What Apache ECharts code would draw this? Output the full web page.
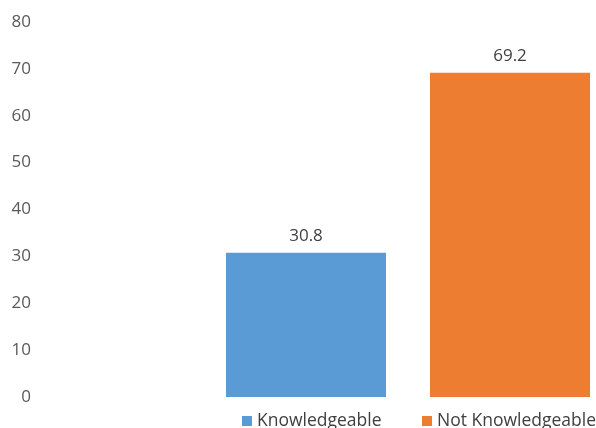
<!DOCTYPE html>
<html><head><meta charset="utf-8">
<script src="https://cdn.jsdelivr.net/npm/echarts@6/dist/echarts.min.js"></script>
<style>html,body{margin:0;padding:0;background:#fff}#c{width:596px;height:428px}</style>
</head><body><div id="c"></div>
<script>
const categories = [''];
const seriesNames = ['Knowledgeable', 'Not Knowledgeable'];
const knowledgeable = [30.8];
const notKnowledgeable = [69.2];
const yTicks = [0, 10, 20, 30, 40, 50, 60, 70, 80];
const colors = ['#5B9BD5', '#ED7D31'];

const chart = echarts.init(document.getElementById('c'));
const font = '"Open Sans", "Noto Sans", sans-serif';
const labelCfg = { show: true, position: 'top', distance: 8, color: '#404040', fontSize: 17, fontFamily: font };
const legendBase = {
  top: 412, padding: 0, itemWidth: 10, itemHeight: 10, icon: 'rect',
  textStyle: { color: '#404040', fontSize: 17.5, fontFamily: font }
};
chart.setOption({
  animation: false,
  grid: { left: 226, right: 6, top: 22, bottom: 31 },
  xAxis: { type: 'category', data: categories, axisLine: { show: false }, axisTick: { show: false }, axisLabel: { show: false } },
  yAxis: {
    type: 'value', min: yTicks[0], max: yTicks[yTicks.length - 1], interval: 10,
    splitLine: { show: false }, axisLine: { show: false }, axisTick: { show: false },
    axisLabel: { margin: 195, color: '#595959', fontSize: 17, fontFamily: font }
  },
  legend: [
    Object.assign({}, legendBase, { left: 242, data: [seriesNames[0]] }),
    Object.assign({}, legendBase, { left: 422, data: [seriesNames[1]] })
  ],
  series: [
    { name: seriesNames[0], type: 'bar', data: knowledgeable, barWidth: 160, barGap: '27.5%', itemStyle: { color: colors[0] }, label: labelCfg },
    { name: seriesNames[1], type: 'bar', data: notKnowledgeable, barWidth: 160, itemStyle: { color: colors[1] }, label: labelCfg }
  ]
});
</script></body></html>
